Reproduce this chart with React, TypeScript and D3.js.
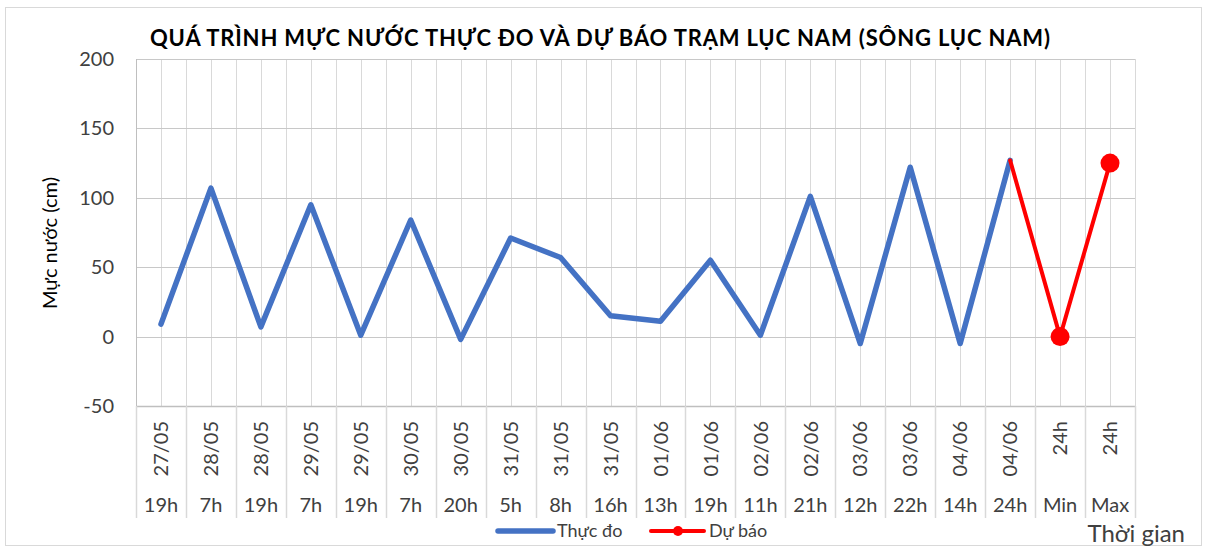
import { useEffect, useRef } from "react"
import * as d3 from "d3"

const dates = ["27/05", "28/05", "28/05", "29/05", "29/05", "30/05", "30/05", "31/05", "31/05", "31/05", "01/06", "01/06", "02/06", "02/06", "03/06", "03/06", "04/06", "04/06", "24h", "24h"]
const hours = ["19h", "7h", "19h", "7h", "19h", "7h", "20h", "5h", "8h", "16h", "13h", "19h", "11h", "21h", "12h", "22h", "14h", "24h", "Min", "Max"]
const observed: (number | null)[] = [9, 107, 7, 95, 1, 84, -2, 71, 57, 15, 11, 55, 1, 101, -5, 122, -5, 127, null, null]
const forecast: (number | null)[] = [null, null, null, null, null, null, null, null, null, null, null, null, null, null, null, null, null, 127, 0, 125]
const yTicks = [-50, 0, 50, 100, 150, 200]

const FONT = "Lato, 'Noto Sans', sans-serif"

export default function App() {
  const svgRef = useRef<SVGSVGElement>(null)

  useEffect(() => {
    if (!svgRef.current) return
    const svg = d3.select(svgRef.current)
    svg.selectAll("*").remove()

    const plot = { left: 136, right: 1135, top: 59, bottom: 406 }

    // outer frame
    svg.append("rect")
      .attr("x", 5.5).attr("y", 7.5)
      .attr("width", 1196).attr("height", 538)
      .attr("fill", "white")
      .attr("stroke", "#d9d9d9")

    const idx = dates.map((_, i) => i)
    const x = d3.scaleBand<number>().domain(idx).range([plot.left, plot.right]).padding(0)
    const bw = x.bandwidth()
    const cx = (i: number) => (x(i) as number) + bw / 2

    const y = d3.scaleLinear().domain([-50, 200]).range([plot.bottom, plot.top])

    // vertical gridlines (boundaries and centres)
    const vLines: number[] = []
    idx.forEach(i => {
      vLines.push(x(i) as number)
      vLines.push(cx(i))
    })
    vLines.push(plot.right)
    svg.append("g")
      .selectAll("line")
      .data(vLines)
      .enter()
      .append("line")
      .attr("x1", d => Math.round(d) + 0.5)
      .attr("x2", d => Math.round(d) + 0.5)
      .attr("y1", plot.top)
      .attr("y2", plot.bottom)
      .attr("stroke", "#d9d9d9")
      .attr("stroke-width", 1)

    // horizontal gridlines
    svg.append("g")
      .selectAll("line")
      .data(yTicks)
      .enter()
      .append("line")
      .attr("x1", plot.left)
      .attr("x2", plot.right)
      .attr("y1", d => Math.round(y(d)) + 0.5)
      .attr("y2", d => Math.round(y(d)) + 0.5)
      .attr("stroke", d => (d === -50 ? "#bfbfbf" : "#c8c8c8"))
      .attr("stroke-width", d => (d === -50 ? 1.5 : 1))

    // y axis line
    svg.append("line")
      .attr("x1", plot.left + 0.5).attr("x2", plot.left + 0.5)
      .attr("y1", plot.top).attr("y2", plot.bottom)
      .attr("stroke", "#bfbfbf")

    // y tick labels
    svg.append("g")
      .selectAll("text")
      .data(yTicks)
      .enter()
      .append("text")
      .attr("x", 114)
      .attr("y", d => y(d))
      .attr("dy", "0.35em")
      .attr("text-anchor", "end")
      .attr("font-family", FONT)
      .attr("font-size", "20px")
      .attr("fill", "#404040")
      .text(d => d)

    // category separators in label area
    const seps = idx.map(i => x(i) as number).concat([plot.right])
    svg.append("g")
      .selectAll("line")
      .data(seps)
      .enter()
      .append("line")
      .attr("x1", d => Math.round(d) + 0.5)
      .attr("x2", d => Math.round(d) + 0.5)
      .attr("y1", plot.bottom)
      .attr("y2", 518)
      .attr("stroke", "#d9d9d9")
      .attr("stroke-width", 1.5)

    // date labels (rotated, top aligned)
    svg.append("g")
      .selectAll("text")
      .data(idx)
      .enter()
      .append("text")
      .attr("transform", i => `translate(${cx(i)},421) rotate(-90)`)
      .attr("dy", "0.36em")
      .attr("text-anchor", "end")
      .attr("font-family", FONT)
      .attr("font-size", "20px")
      .attr("fill", "#404040")
      .text(i => dates[i])

    // hour labels
    svg.append("g")
      .selectAll("text")
      .data(idx)
      .enter()
      .append("text")
      .attr("x", i => cx(i))
      .attr("y", 512)
      .attr("text-anchor", "middle")
      .attr("font-family", FONT)
      .attr("font-size", "20px")
      .attr("fill", "#404040")
      .text(i => hours[i])

    // lines
    const line = d3.line<number | null>()
      .defined(d => d !== null)
      .x((_, i) => cx(i))
      .y(d => y(d as number))

    svg.append("path")
      .datum(observed)
      .attr("fill", "none")
      .attr("stroke", "#4472c4")
      .attr("stroke-width", 5.5)
      .attr("stroke-linejoin", "round")
      .attr("stroke-linecap", "round")
      .attr("d", line)

    svg.append("path")
      .datum(forecast)
      .attr("fill", "none")
      .attr("stroke", "#ff0000")
      .attr("stroke-width", 4)
      .attr("stroke-linejoin", "round")
      .attr("stroke-linecap", "round")
      .attr("d", line)

    // forecast markers (Min / Max only)
    svg.append("g")
      .selectAll("circle")
      .data(idx.filter(i => i >= 18))
      .enter()
      .append("circle")
      .attr("cx", i => cx(i))
      .attr("cy", i => y(forecast[i] as number))
      .attr("r", 9.5)
      .attr("fill", "#ff0000")

    // title
    svg.append("text")
      .attr("x", 600)
      .attr("y", 46)
      .attr("text-anchor", "middle")
      .attr("font-family", FONT)
      .attr("font-weight", "bold")
      .attr("font-size", "22px")
      .attr("textLength", 900)
      .attr("lengthAdjust", "spacing")
      .attr("fill", "#000")
      .text("QUÁ TRÌNH MỰC NƯỚC THỰC ĐO VÀ DỰ BÁO TRẠM LỤC NAM (SÔNG LỤC NAM)")

    // y axis title
    svg.append("text")
      .attr("transform", `translate(50,243) rotate(-90)`)
      .attr("dy", "0.35em")
      .attr("text-anchor", "middle")
      .attr("font-family", FONT)
      .attr("font-size", "20px")
      .attr("fill", "#000")
      .text("Mực nước (cm)")

    // x axis title
    svg.append("text")
      .attr("x", 1185)
      .attr("y", 542)
      .attr("text-anchor", "end")
      .attr("font-family", FONT)
      .attr("font-size", "24px")
      .attr("fill", "#404040")
      .text("Thời gian")

    // legend
    const lg = svg.append("g").attr("font-family", FONT).attr("font-size", "18px").attr("fill", "#404040")
    lg.append("line")
      .attr("x1", 498).attr("x2", 553).attr("y1", 531).attr("y2", 531)
      .attr("stroke", "#4472c4").attr("stroke-width", 5.5).attr("stroke-linecap", "round")
    lg.append("text").attr("x", 557).attr("y", 531).attr("dy", "0.35em").text("Thực đo")
    lg.append("line")
      .attr("x1", 651).attr("x2", 704).attr("y1", 531).attr("y2", 531)
      .attr("stroke", "#ff0000").attr("stroke-width", 4).attr("stroke-linecap", "round")
    lg.append("circle").attr("cx", 678).attr("cy", 531).attr("r", 5).attr("fill", "#ff0000")
    lg.append("text").attr("x", 709).attr("y", 531).attr("dy", "0.35em").text("Dự báo")
  }, [])

  return (
    <div style={{ position: "absolute", left: 0, top: 0, width: 1206, height: 549, background: "white" }}>
      <svg ref={svgRef} width={1206} height={549} style={{ display: "block" }} />
    </div>
  )
}
